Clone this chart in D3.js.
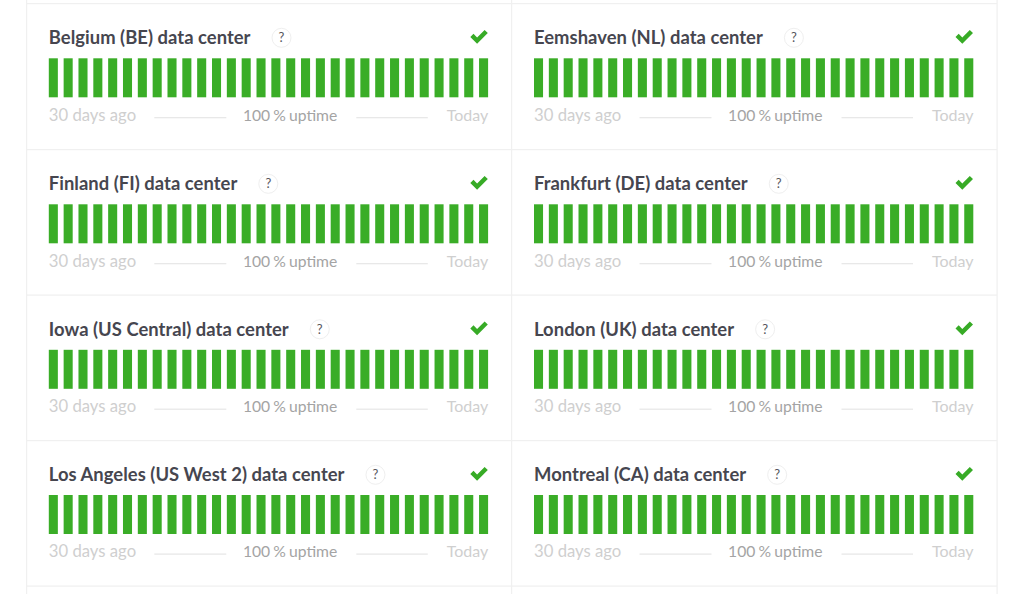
<!DOCTYPE html>
<html><head><meta charset="utf-8">
<script src="https://cdn.jsdelivr.net/npm/d3@7"></script>
<style>html,body{margin:0;padding:0;background:#fff;overflow:hidden}svg{display:block}text{font-family:Lato,"Noto Sans",sans-serif}</style>
</head><body><svg id="c" width="1024" height="594"></svg>
<script>
const centers=["Belgium (BE) data center","Eemshaven (NL) data center","Finland (FI) data center","Frankfurt (DE) data center","Iowa (US Central) data center","London (UK) data center","Los Angeles (US West 2) data center","Montreal (CA) data center"];
const uptimeLabels=["100 % uptime","100 % uptime","100 % uptime","100 % uptime","100 % uptime","100 % uptime","100 % uptime","100 % uptime"];
const dailyUp=[1,1,1,1,1,1,1,1,1,1,1,1,1,1,1,1,1,1,1,1,1,1,1,1,1,1,1,1,1,1];
const days=d3.range(30);
const rowTops=[3.5,149.5,295,440.5,586];
const W=[26.5,511.5,997];
const svg=d3.select("#c");
const line="#f0f0f0";
rowTops.forEach(y=>svg.append("rect").attr("x",W[0]).attr("y",y-.5).attr("width",W[2]-W[0]).attr("height",1.2).attr("fill",line));
W.forEach(x=>svg.append("rect").attr("x",x-.5).attr("y",0).attr("width",1.2).attr("height",594).attr("fill",line));
const xs=[48.8,534];
const gap=d3.scaleBand().domain(days).range([0,439.3]).paddingInner(.39).paddingOuter(0);
const h=d3.scaleLinear().domain([0,1]).range([0,39]);
centers.forEach((name,i)=>{
  const col=i%2,row=Math.floor(i/2),x0=xs[col],y0=rowTops[row];
  const g=svg.append("g").attr("transform",`translate(${x0},${y0})`);
  const t=g.append("text").attr("x",0).attr("y",40.9).attr("font-size",18.4).attr("letter-spacing","0.04px").attr("font-weight",700).attr("fill","#46464f").text(name);
  const tw=t.node().getComputedTextLength();
  g.append("circle").attr("cx",tw+31).attr("cy",34.3).attr("r",9.5).attr("fill","#fff").attr("stroke","#efefef");
  g.append("text").attr("x",tw+31).attr("y",38.8).attr("text-anchor","middle").attr("font-size",13).attr("font-weight",400).attr("fill","#55555c").text("?");
  g.append("path").attr("d","M421.5 33.5l3.2-3.2 3.6 3.6 7.5-7.5 3.2 3.2-10.7 10.7z").attr("fill","#37ab26");
  g.selectAll("rect").data(days).join("rect").attr("x",d=>gap(d)).attr("y",row===3?54.5:54.8).attr("width",gap.bandwidth()).attr("height",d=>h(dailyUp[d])).attr("fill","#3aad27");
  const ly=row===3?116:117, rl=row===3?113.6:114.2;
  const s=g.append("g").attr("font-size",16.7).attr("fill","#cfcfcf");
  s.append("text").attr("x",0).attr("y",ly).text("30 days ago");
  s.append("text").attr("x",439.5).attr("y",ly).attr("font-size",16).attr("text-anchor","end").text("Today");
  g.append("text").attr("x",241.3).attr("y",ly).attr("text-anchor","middle").attr("font-size",15.7).attr("word-spacing","-0.9px").attr("fill","#a4a4a4").text(uptimeLabels[i]);
  [[105.5,177.5],[307.5,379]].forEach(a=>g.append("rect").attr("x",a[0]).attr("y",rl-.6).attr("width",a[1]-a[0]).attr("height",1.2).attr("fill","#e6e6e6"));
});
</script></body></html>
